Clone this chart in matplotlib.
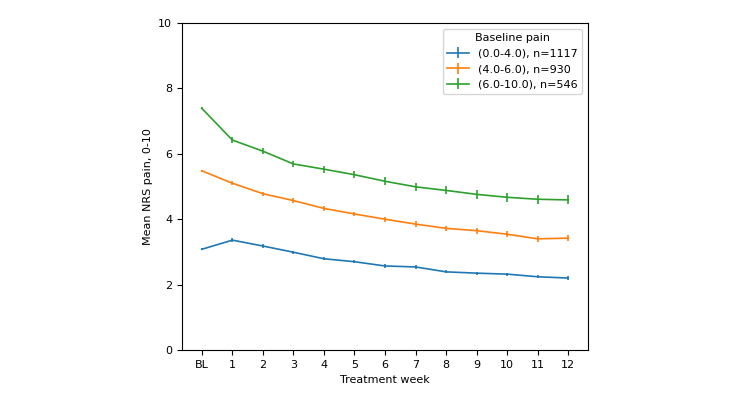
import matplotlib.pyplot as plt

weeks = ["BL", "1", "2", "3", "4", "5", "6", "7", "8", "9", "10", "11", "12"]

low_mean = [3.08, 3.36, 3.18, 2.99, 2.79, 2.70, 2.57, 2.54, 2.39, 2.35, 2.32, 2.24, 2.20]
low_err = [0.03, 0.05, 0.05, 0.05, 0.05, 0.05, 0.05, 0.05, 0.05, 0.05, 0.05, 0.05, 0.06]
mid_mean = [5.48, 5.10, 4.78, 4.57, 4.33, 4.16, 4.00, 3.85, 3.72, 3.65, 3.54, 3.40, 3.42]
mid_err = [0.03, 0.06, 0.06, 0.07, 0.07, 0.07, 0.08, 0.08, 0.08, 0.09, 0.09, 0.10, 0.10]
high_mean = [7.39, 6.42, 6.08, 5.69, 5.53, 5.36, 5.16, 4.99, 4.88, 4.76, 4.67, 4.61, 4.59]
high_err = [0.03, 0.08, 0.09, 0.10, 0.11, 0.11, 0.12, 0.12, 0.12, 0.13, 0.13, 0.14, 0.14]

labels = ["(0.0-4.0), n=1117", "(4.0-6.0), n=930", "(6.0-10.0), n=546"]

fig = plt.figure(figsize=(7.45, 3.93), dpi=100)
ax = fig.add_axes([0.2443, 0.1094, 0.5450, 0.8321])

x = list(range(len(weeks)))
for mean, err, lab in zip([low_mean, mid_mean, high_mean],
                          [low_err, mid_err, high_err], labels):
    ax.errorbar(x, mean, yerr=err, label=lab, linewidth=1.2, elinewidth=1.2)

ax.set_ylim(0, 10)
ax.set_xlim(-0.65, 12.65)
ax.set_xticks(x)
ax.set_xticklabels(weeks)
ax.set_yticks([0, 2, 4, 6, 8, 10])
ax.tick_params(labelsize=8)
ax.set_xlabel("Treatment week", fontsize=8)
ax.set_ylabel("Mean NRS pain, 0-10", fontsize=8)
ax.legend(title="Baseline pain", fontsize=8, title_fontsize=8, loc="upper right")

plt.savefig("out.png")
plt.close()
